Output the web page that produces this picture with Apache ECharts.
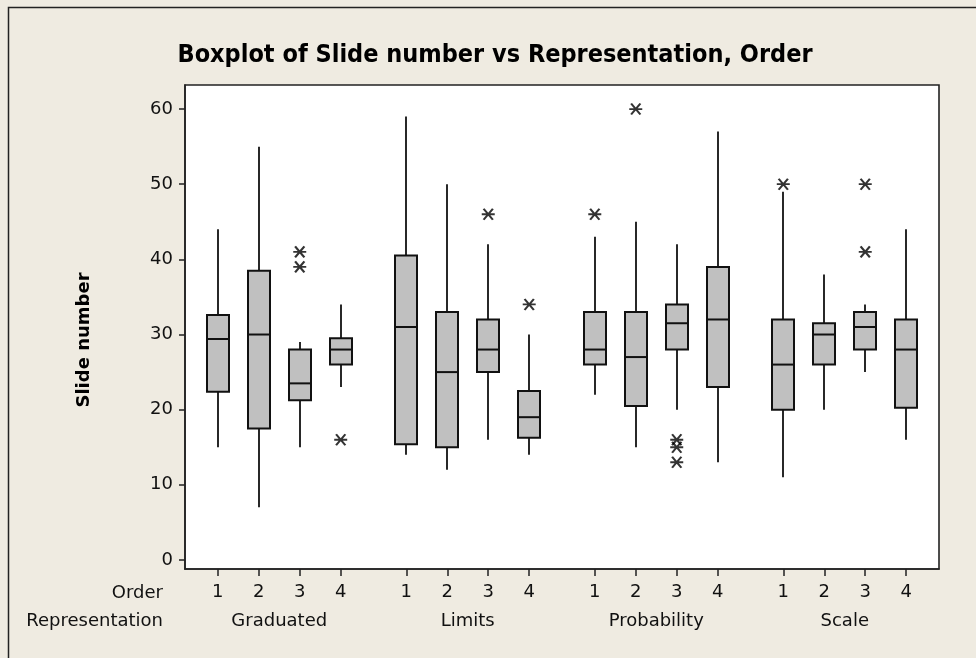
<!DOCTYPE html>
<html>
<head>
<meta charset="utf-8">
<script src="https://cdn.jsdelivr.net/npm/echarts@6/dist/echarts.min.js"></script>
<style>
html,body{margin:0;padding:0;background:#EFEBE1;}
#chart{width:976px;height:658px;}
</style>
</head>
<body>
<div id="chart"></div>
<script>
// ---- data ----
const representations = ['Graduated', 'Limits', 'Probability', 'Scale'];
const orders = ['1', '2', '3', '4'];
const yTicks = [0, 10, 20, 30, 40, 50, 60];
// five-number summaries [min whisker, Q1, median, Q3, max whisker] per order 1..4
const graduatedBoxes = [[15, 22.4, 29.4, 32.6, 44], [7, 17.5, 30, 38.5, 55], [15, 21.25, 23.5, 28, 29], [23, 26, 28, 29.5, 34]];
const limitsBoxes = [[14, 15.4, 31, 40.5, 59], [12, 15, 25, 33, 50], [16, 25, 28, 32, 42], [14, 16.25, 19, 22.5, 30]];
const probabilityBoxes = [[22, 26, 28, 33, 43], [15, 20.5, 27, 33, 45], [20, 28, 31.5, 34, 42], [13, 23, 32, 39, 57]];
const scaleBoxes = [[11, 20, 26, 32, 49], [20, 26, 30, 31.5, 38], [25, 28, 31, 33, 34], [16, 20.25, 28, 32, 44]];
// outliers per order 1..4
const graduatedOutliers = [[], [], [41, 39], [16]];
const limitsOutliers = [[], [], [46], [34]];
const probabilityOutliers = [[46], [60], [16, 15, 13], []];
const scaleOutliers = [[50], [], [50, 41], []];

const allBoxes = [graduatedBoxes, limitsBoxes, probabilityBoxes, scaleBoxes];
const allOutliers = [graduatedOutliers, limitsOutliers, probabilityOutliers, scaleOutliers];

// x position helper (axis units: 10 between orders, 16 between groups)
function pos(g, o) { return g * 46 + o * 10; }

const boxData = [];
const outlierData = [];
const orderPositions = [];
const orderLabelMap = {};
const repPositions = [];
const repLabelMap = {};
allBoxes.forEach((grp, g) => {
  grp.forEach((b, o) => {
    const x = pos(g, o);
    boxData.push([x].concat(b));
    orderPositions.push(x);
    orderLabelMap[x] = orders[o];
    allOutliers[g][o].forEach(v => outlierData.push([x, v]));
  });
  const c = pos(g, 1.5);
  repPositions.push(c);
  repLabelMap[c] = representations[g];
});

const FONT = 'DejaVu Sans';
const chart = echarts.init(document.getElementById('chart'), null, {renderer: 'canvas'});
chart.setOption({
  backgroundColor: '#EFEBE1',
  animation: false,
  grid: {left: 185, right: 37, top: 85, bottom: 89, show: true, backgroundColor: '#FFFFFF', borderColor: '#222', borderWidth: 1.6},
  xAxis: [{
    type: 'value', min: -8, max: 176, position: 'bottom',
    splitLine: {show: false},
    axisLine: {show: true, onZero: false, lineStyle: {color: '#222', width: 1.6}},
    axisTick: {show: true, inside: false, length: 7, customValues: orderPositions, lineStyle: {color: '#222', width: 1.5}},
    axisLabel: {show: true, margin: 14, customValues: orderPositions, formatter: v => orderLabelMap[v] || '', color: '#111', fontFamily: FONT, fontSize: 18}
  }, {
    type: 'value', min: -8, max: 176, position: 'bottom',
    splitLine: {show: false},
    axisLine: {show: false, onZero: false},
    axisTick: {show: false},
    axisLabel: {show: true, margin: 43, customValues: repPositions, formatter: v => repLabelMap[v] || '', color: '#111', fontFamily: FONT, fontSize: 18}
  }],
  yAxis: {
    type: 'value', min: -1.2, max: 63.2, position: 'left',
    splitLine: {show: false},
    axisLine: {show: true, onZero: false, lineStyle: {color: '#222', width: 1.6}},
    axisTick: {show: true, inside: false, length: 6, customValues: yTicks, lineStyle: {color: '#222', width: 1.5}},
    axisLabel: {margin: 12, customValues: yTicks, color: '#111', fontFamily: FONT, fontSize: 18}
  },
  series: [{
    type: 'custom',
    xAxisIndex: 0,
    data: boxData,
    encode: {x: 0, y: [1, 2, 3, 4, 5]},
    renderItem: function (params, api) {
      const x = api.value(0);
      const p = [1, 2, 3, 4, 5].map(i => api.coord([x, api.value(i)]));
      const cx = Math.round(p[0][0]);
      const hw = 11;
      const lineStyle = {stroke: '#111', lineWidth: 1.8};
      return {
        type: 'group',
        children: [
          {type: 'line', shape: {x1: cx, y1: p[4][1], x2: cx, y2: p[3][1]}, style: lineStyle},
          {type: 'line', shape: {x1: cx, y1: p[1][1], x2: cx, y2: p[0][1]}, style: lineStyle},
          {type: 'rect', shape: {x: cx - hw, y: p[3][1], width: 2 * hw, height: p[1][1] - p[3][1]}, style: {fill: '#C0C0C0', stroke: '#111', lineWidth: 2}},
          {type: 'line', shape: {x1: cx - hw, y1: p[2][1], x2: cx + hw, y2: p[2][1]}, style: {stroke: '#111', lineWidth: 2}}
        ]
      };
    }
  }, {
    type: 'scatter',
    xAxisIndex: 0,
    data: outlierData,
    symbol: 'path://M0,6L14,6M2,0L12,12M12,0L2,12',
    symbolSize: [13, 11],
    itemStyle: {color: 'rgba(0,0,0,0)', borderColor: '#000', borderWidth: 2},
    z: 5
  }],
  graphic: [
    {type: 'rect', left: 6, top: 5, shape: {width: 1000, height: 700}, style: {fill: 'none', stroke: '#222', lineWidth: 1.5}, z: -1, silent: true},
    {type: 'text', x: 495, y: 55, style: {text: 'Boxplot of Slide number vs Representation, Order', font: 'bold 25px "DejaVu Sans Condensed", "DejaVu Sans"', fill: '#000', textAlign: 'center', textVerticalAlign: 'middle'}},
    {type: 'text', x: 84, y: 340, rotation: Math.PI / 2, style: {text: 'Slide number', font: 'bold 18px "DejaVu Sans"', fill: '#000', textAlign: 'center', textVerticalAlign: 'middle'}},
    {type: 'text', x: 163, y: 593, style: {text: 'Order', font: '18px "DejaVu Sans"', fill: '#111', textAlign: 'right', textVerticalAlign: 'middle'}},
    {type: 'text', x: 163, y: 621, style: {text: 'Representation', font: '18px "DejaVu Sans"', fill: '#111', textAlign: 'right', textVerticalAlign: 'middle'}}
  ]
});
</script>
</body>
</html>
